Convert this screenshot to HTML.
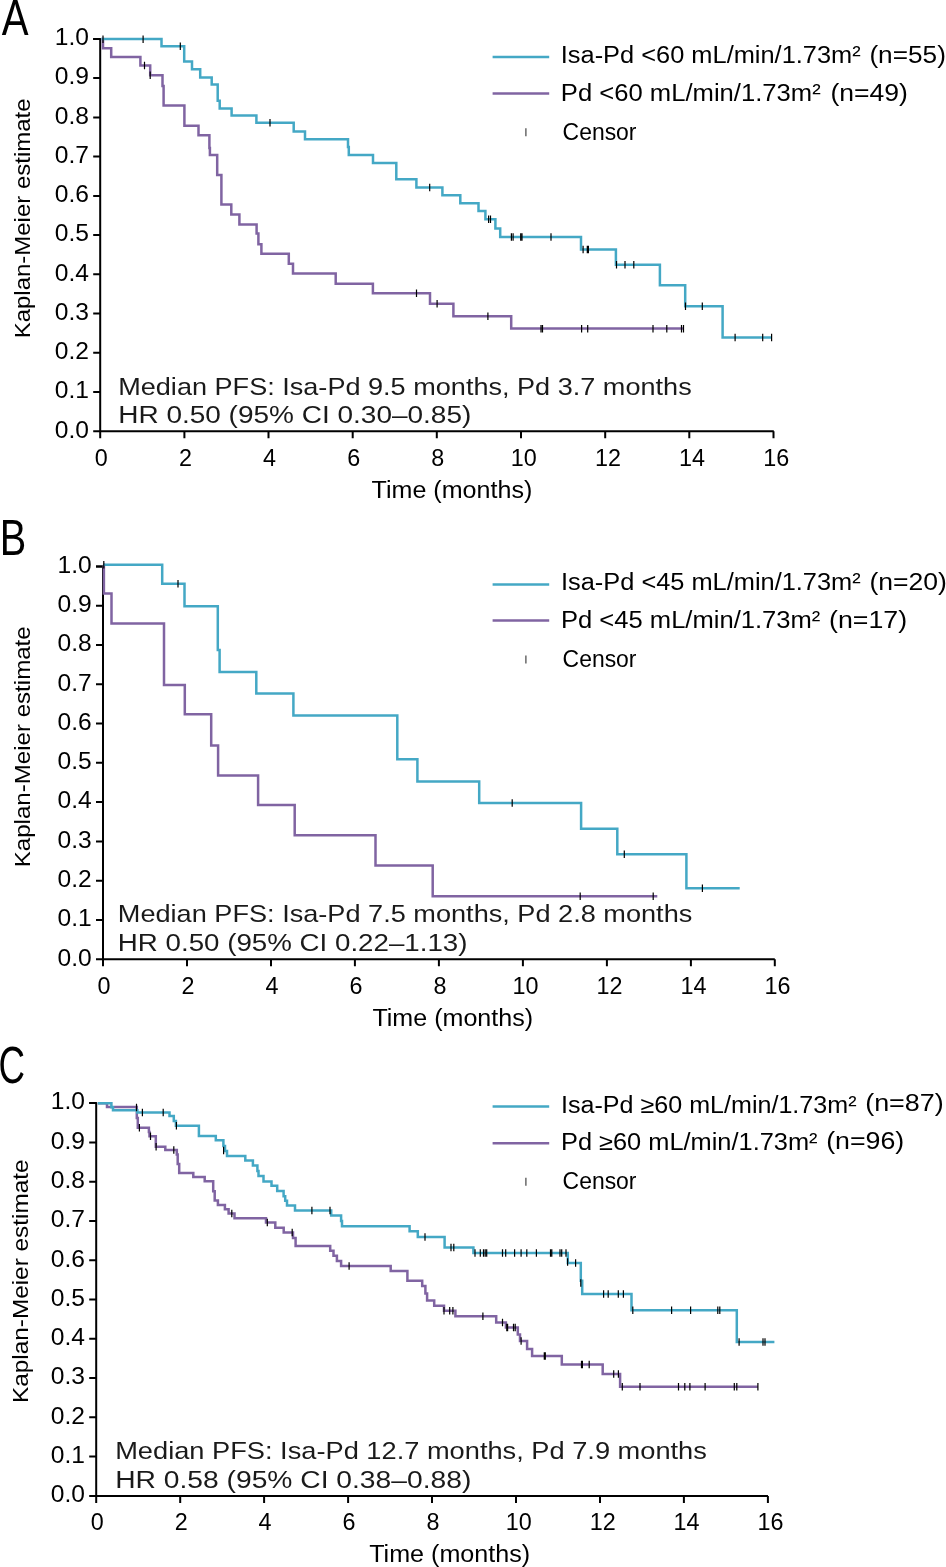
<!DOCTYPE html>
<html><head><meta charset="utf-8"><title>KM curves</title>
<style>
html,body{margin:0;padding:0;background:#fff;}
body{width:946px;height:1567px;overflow:hidden;}
svg{display:block;font-family:"Liberation Sans",sans-serif;fill:#000;will-change:transform;}
svg text{font-family:"Liberation Sans",sans-serif;}
</style></head><body>
<svg width="946" height="1567" viewBox="0 0 946 1567">
<rect width="946" height="1567" fill="#fff"/>
<path d="M93.2,38.9H100.2V431.3H773.8" fill="none" stroke="#000" stroke-width="2" stroke-linejoin="round"/>
<path d="M93.2,431.3H100.2M93.2,392.1H100.2M93.2,352.8H100.2M93.2,313.6H100.2M93.2,274.3H100.2M93.2,235.1H100.2M93.2,195.9H100.2M93.2,156.6H100.2M93.2,117.4H100.2M93.2,78.1H100.2M93.2,38.9H100.2M100.2,431.3V438.3M184.4,431.3V438.3M268.5,431.3V438.3M352.7,431.3V438.3M436.8,431.3V438.3M521.0,431.3V438.3M605.2,431.3V438.3M689.3,431.3V438.3M773.5,431.3V438.3" fill="none" stroke="#000" stroke-width="2"/>
<text x="89.0" y="437.6" text-anchor="end" font-size="23.3" textLength="34.2" lengthAdjust="spacingAndGlyphs">0.0</text>
<text x="89.0" y="398.4" text-anchor="end" font-size="23.3" textLength="34.2" lengthAdjust="spacingAndGlyphs">0.1</text>
<text x="89.0" y="359.1" text-anchor="end" font-size="23.3" textLength="34.2" lengthAdjust="spacingAndGlyphs">0.2</text>
<text x="89.0" y="319.9" text-anchor="end" font-size="23.3" textLength="34.2" lengthAdjust="spacingAndGlyphs">0.3</text>
<text x="89.0" y="280.6" text-anchor="end" font-size="23.3" textLength="34.2" lengthAdjust="spacingAndGlyphs">0.4</text>
<text x="89.0" y="241.4" text-anchor="end" font-size="23.3" textLength="34.2" lengthAdjust="spacingAndGlyphs">0.5</text>
<text x="89.0" y="202.2" text-anchor="end" font-size="23.3" textLength="34.2" lengthAdjust="spacingAndGlyphs">0.6</text>
<text x="89.0" y="162.9" text-anchor="end" font-size="23.3" textLength="34.2" lengthAdjust="spacingAndGlyphs">0.7</text>
<text x="89.0" y="123.7" text-anchor="end" font-size="23.3" textLength="34.2" lengthAdjust="spacingAndGlyphs">0.8</text>
<text x="89.0" y="84.4" text-anchor="end" font-size="23.3" textLength="34.2" lengthAdjust="spacingAndGlyphs">0.9</text>
<text x="89.0" y="45.2" text-anchor="end" font-size="23.3" textLength="34.2" lengthAdjust="spacingAndGlyphs">1.0</text>
<text x="101.2" y="465.8" text-anchor="middle" font-size="23.3" textLength="13" lengthAdjust="spacingAndGlyphs">0</text>
<text x="185.4" y="465.8" text-anchor="middle" font-size="23.3" textLength="13" lengthAdjust="spacingAndGlyphs">2</text>
<text x="269.5" y="465.8" text-anchor="middle" font-size="23.3" textLength="13" lengthAdjust="spacingAndGlyphs">4</text>
<text x="353.7" y="465.8" text-anchor="middle" font-size="23.3" textLength="13" lengthAdjust="spacingAndGlyphs">6</text>
<text x="437.8" y="465.8" text-anchor="middle" font-size="23.3" textLength="13" lengthAdjust="spacingAndGlyphs">8</text>
<text x="523.7" y="465.8" text-anchor="middle" font-size="23.3" textLength="26" lengthAdjust="spacingAndGlyphs">10</text>
<text x="607.9" y="465.8" text-anchor="middle" font-size="23.3" textLength="26" lengthAdjust="spacingAndGlyphs">12</text>
<text x="692.0" y="465.8" text-anchor="middle" font-size="23.3" textLength="26" lengthAdjust="spacingAndGlyphs">14</text>
<text x="776.2" y="465.8" text-anchor="middle" font-size="23.3" textLength="26" lengthAdjust="spacingAndGlyphs">16</text>
<path d="M101.5,39.1H103.0V48.2H111.2V56.9H140.4V65.5H150.2V75.2H162.5V86.0H163.6V105.4H184.4V125.8H198.5V135.3H209.4V148.0H209.9V155.0H217.2V175.0H221.4V204.6H231.3V214.4H239.4V224.6H256.6V233.6H258.4V244.2H261.4V253.8H288.8V263.7H293.0V273.6H335.7V283.7H372.9V293.2H430.0V303.8H453.4V316.3H511.2V328.6H684.0" fill="none" stroke="#8064a2" stroke-width="2.5" stroke-linejoin="miter"/>
<path d="M101.5,39.1H161.5V46.2H184.2V61.5H192.0V69.3H200.2V77.4H211.7V84.6H217.7V100.7H219.7V108.5H231.6V115.6H256.4V122.8H293.7V131.5H305.0V139.3H348.0V147.0H348.8V155.0H373.0V162.9H396.3V179.3H416.4V187.4H442.4V195.2H460.3V203.2H478.5V211.1H485.4V219.2H495.4V228.5H500.2V237.1H581.0V249.6H615.9V264.8H659.9V285.3H685.2V306.2H722.6V337.5H772.0" fill="none" stroke="#44a8c5" stroke-width="2.5" stroke-linejoin="miter"/>
<path d="M103.0,35.4V42.9M143.1,35.4V42.9M180.3,42.5V50.0M270.0,119.0V126.5M429.7,183.7V191.2M488.6,215.4V222.9M490.5,215.4V222.9M511.4,233.3V240.8M513.1,233.3V240.8M520.7,233.3V240.8M522.0,233.3V240.8M551.0,233.3V240.8M583.1,245.8V253.3M587.3,245.8V253.3M588.4,245.8V253.3M616.5,261.1V268.6M625.0,261.1V268.6M633.8,261.1V268.6M685.5,302.4V309.9M702.3,302.4V309.9M735.1,333.8V341.2M762.7,333.8V341.2M771.6,333.8V341.2" fill="none" stroke="#000" stroke-width="1.2"/>
<path d="M144.5,61.8V69.2M150.2,71.5V79.0M416.5,289.4V296.9M437.1,300.1V307.6M487.9,312.6V320.1M541.0,324.9V332.4M542.5,324.9V332.4M581.6,324.9V332.4M587.7,324.9V332.4M653.0,324.9V332.4M666.8,324.9V332.4M681.5,324.9V332.4M683.5,324.9V332.4" fill="none" stroke="#000" stroke-width="1.2"/>
<text x="1.8" y="35.0" font-size="50" textLength="26.8" lengthAdjust="spacingAndGlyphs">A</text>
<path d="M492.6,56.9H549.2" stroke="#44a8c5" stroke-width="2.5"/>
<path d="M492.6,93.4H549.2" stroke="#8064a2" stroke-width="2.5"/>
<path d="M525.9,128.2V136.2" stroke="#444" stroke-width="1.2"/>
<text x="560.80" y="62.5" font-size="23.5" fill="#000" textLength="299.90" lengthAdjust="spacingAndGlyphs">Isa-Pd &lt;60 mL/min/1.73m²</text>
<text x="869.40" y="62.5" font-size="23.5" fill="#000" textLength="76.50" lengthAdjust="spacingAndGlyphs">(n=55)</text>
<text x="560.80" y="100.5" font-size="23.5" fill="#000" textLength="259.90" lengthAdjust="spacingAndGlyphs">Pd &lt;60 mL/min/1.73m²</text>
<text x="830.40" y="100.5" font-size="23.5" fill="#000" textLength="77.50" lengthAdjust="spacingAndGlyphs">(n=49)</text>
<text x="562.60" y="139.5" font-size="23.5" fill="#000" textLength="73.90" lengthAdjust="spacingAndGlyphs">Censor</text>
<text x="118.20" y="394.5" font-size="24.2" fill="#1a1a1a" textLength="573.50" lengthAdjust="spacingAndGlyphs">Median PFS: Isa-Pd 9.5 months, Pd 3.7 months</text>
<text x="118.20" y="423.2" font-size="24.2" fill="#1a1a1a" textLength="353.10" lengthAdjust="spacingAndGlyphs">HR 0.50 (95% CI 0.30–0.85)</text>
<text x="371.60" y="497.7" font-size="23.0" fill="#000" textLength="160.70" lengthAdjust="spacingAndGlyphs">Time (months)</text>
<text transform="translate(29.5,338.3) rotate(-90)" x="0" y="0" font-size="21.8" textLength="239.8" lengthAdjust="spacingAndGlyphs">Kaplan-Meier estimate</text>
<path d="M96.0,566.4H103.0V959.3H774.8" fill="none" stroke="#000" stroke-width="2" stroke-linejoin="round"/>
<path d="M96.0,959.3H103.0M96.0,920.0H103.0M96.0,880.7H103.0M96.0,841.4H103.0M96.0,802.1H103.0M96.0,762.8H103.0M96.0,723.6H103.0M96.0,684.3H103.0M96.0,645.0H103.0M96.0,605.7H103.0M96.0,566.4H103.0M103.0,959.3V966.3M187.0,959.3V966.3M271.0,959.3V966.3M354.9,959.3V966.3M438.9,959.3V966.3M522.9,959.3V966.3M606.9,959.3V966.3M690.9,959.3V966.3M774.8,959.3V966.3" fill="none" stroke="#000" stroke-width="2"/>
<text x="91.8" y="965.6" text-anchor="end" font-size="23.3" textLength="34.2" lengthAdjust="spacingAndGlyphs">0.0</text>
<text x="91.8" y="926.3" text-anchor="end" font-size="23.3" textLength="34.2" lengthAdjust="spacingAndGlyphs">0.1</text>
<text x="91.8" y="887.0" text-anchor="end" font-size="23.3" textLength="34.2" lengthAdjust="spacingAndGlyphs">0.2</text>
<text x="91.8" y="847.7" text-anchor="end" font-size="23.3" textLength="34.2" lengthAdjust="spacingAndGlyphs">0.3</text>
<text x="91.8" y="808.4" text-anchor="end" font-size="23.3" textLength="34.2" lengthAdjust="spacingAndGlyphs">0.4</text>
<text x="91.8" y="769.1" text-anchor="end" font-size="23.3" textLength="34.2" lengthAdjust="spacingAndGlyphs">0.5</text>
<text x="91.8" y="729.9" text-anchor="end" font-size="23.3" textLength="34.2" lengthAdjust="spacingAndGlyphs">0.6</text>
<text x="91.8" y="690.6" text-anchor="end" font-size="23.3" textLength="34.2" lengthAdjust="spacingAndGlyphs">0.7</text>
<text x="91.8" y="651.3" text-anchor="end" font-size="23.3" textLength="34.2" lengthAdjust="spacingAndGlyphs">0.8</text>
<text x="91.8" y="612.0" text-anchor="end" font-size="23.3" textLength="34.2" lengthAdjust="spacingAndGlyphs">0.9</text>
<text x="91.8" y="572.7" text-anchor="end" font-size="23.3" textLength="34.2" lengthAdjust="spacingAndGlyphs">1.0</text>
<text x="104.0" y="993.8" text-anchor="middle" font-size="23.3" textLength="13" lengthAdjust="spacingAndGlyphs">0</text>
<text x="188.0" y="993.8" text-anchor="middle" font-size="23.3" textLength="13" lengthAdjust="spacingAndGlyphs">2</text>
<text x="272.0" y="993.8" text-anchor="middle" font-size="23.3" textLength="13" lengthAdjust="spacingAndGlyphs">4</text>
<text x="355.9" y="993.8" text-anchor="middle" font-size="23.3" textLength="13" lengthAdjust="spacingAndGlyphs">6</text>
<text x="439.9" y="993.8" text-anchor="middle" font-size="23.3" textLength="13" lengthAdjust="spacingAndGlyphs">8</text>
<text x="525.6" y="993.8" text-anchor="middle" font-size="23.3" textLength="26" lengthAdjust="spacingAndGlyphs">10</text>
<text x="609.6" y="993.8" text-anchor="middle" font-size="23.3" textLength="26" lengthAdjust="spacingAndGlyphs">12</text>
<text x="693.6" y="993.8" text-anchor="middle" font-size="23.3" textLength="26" lengthAdjust="spacingAndGlyphs">14</text>
<text x="777.5" y="993.8" text-anchor="middle" font-size="23.3" textLength="26" lengthAdjust="spacingAndGlyphs">16</text>
<path d="M103.5,564.8H103.9V593.6H111.5V623.5H164.0V685.0H184.8V714.3H211.2V745.4H218.1V775.6H258.1V805.1H294.7V835.3H375.5V865.6H432.7V896.2H657.3" fill="none" stroke="#8064a2" stroke-width="2.5" stroke-linejoin="miter"/>
<path d="M103.5,564.8H162.2V583.7H184.5V606.2H217.8V650.1H219.6V672.0H256.3V693.6H293.4V715.4H397.3V759.2H417.4V781.4H479.2V803.0H581.1V828.7H617.3V854.3H686.4V888.3H739.7" fill="none" stroke="#44a8c5" stroke-width="2.5" stroke-linejoin="miter"/>
<path d="M103.8,561.0V568.5M178.0,580.0V587.5M512.2,799.2V806.8M624.3,850.5V858.0M702.4,884.5V892.0" fill="none" stroke="#000" stroke-width="1.2"/>
<path d="M580.2,892.5V900.0M653.2,892.5V900.0" fill="none" stroke="#000" stroke-width="1.2"/>
<text x="-0.2" y="555.0" font-size="50" textLength="26.5" lengthAdjust="spacingAndGlyphs">B</text>
<path d="M492.6,584.4H549.2" stroke="#44a8c5" stroke-width="2.5"/>
<path d="M492.6,620.4H549.2" stroke="#8064a2" stroke-width="2.5"/>
<path d="M525.9,655.6V663.6" stroke="#444" stroke-width="1.2"/>
<text x="561.00" y="589.9" font-size="23.5" fill="#000" textLength="299.70" lengthAdjust="spacingAndGlyphs">Isa-Pd &lt;45 mL/min/1.73m²</text>
<text x="869.40" y="589.9" font-size="23.5" fill="#000" textLength="77.50" lengthAdjust="spacingAndGlyphs">(n=20)</text>
<text x="561.00" y="627.9" font-size="23.5" fill="#000" textLength="259.30" lengthAdjust="spacingAndGlyphs">Pd &lt;45 mL/min/1.73m²</text>
<text x="829.00" y="627.9" font-size="23.5" fill="#000" textLength="78.10" lengthAdjust="spacingAndGlyphs">(n=17)</text>
<text x="562.60" y="667.0" font-size="23.5" fill="#000" textLength="73.90" lengthAdjust="spacingAndGlyphs">Censor</text>
<text x="117.80" y="922.4" font-size="24.2" fill="#1a1a1a" textLength="574.50" lengthAdjust="spacingAndGlyphs">Median PFS: Isa-Pd 7.5 months, Pd 2.8 months</text>
<text x="117.80" y="951.3" font-size="24.2" fill="#1a1a1a" textLength="349.70" lengthAdjust="spacingAndGlyphs">HR 0.50 (95% CI 0.22–1.13)</text>
<text x="372.40" y="1025.7" font-size="23.0" fill="#000" textLength="160.70" lengthAdjust="spacingAndGlyphs">Time (months)</text>
<text transform="translate(30.0,867.3) rotate(-90)" x="0" y="0" font-size="21.8" textLength="241.0" lengthAdjust="spacingAndGlyphs">Kaplan-Meier estimate</text>
<path d="M89.2,1103.1H96.2V1495.9H768.0" fill="none" stroke="#000" stroke-width="2" stroke-linejoin="round"/>
<path d="M89.2,1495.9H96.2M89.2,1456.6H96.2M89.2,1417.3H96.2M89.2,1378.1H96.2M89.2,1338.8H96.2M89.2,1299.5H96.2M89.2,1260.2H96.2M89.2,1220.9H96.2M89.2,1181.7H96.2M89.2,1142.4H96.2M89.2,1103.1H96.2M96.2,1495.9V1502.9M180.2,1495.9V1502.9M264.1,1495.9V1502.9M348.1,1495.9V1502.9M432.0,1495.9V1502.9M516.0,1495.9V1502.9M600.0,1495.9V1502.9M683.9,1495.9V1502.9M767.9,1495.9V1502.9" fill="none" stroke="#000" stroke-width="2"/>
<text x="85.0" y="1502.2" text-anchor="end" font-size="23.3" textLength="34.2" lengthAdjust="spacingAndGlyphs">0.0</text>
<text x="85.0" y="1462.9" text-anchor="end" font-size="23.3" textLength="34.2" lengthAdjust="spacingAndGlyphs">0.1</text>
<text x="85.0" y="1423.6" text-anchor="end" font-size="23.3" textLength="34.2" lengthAdjust="spacingAndGlyphs">0.2</text>
<text x="85.0" y="1384.4" text-anchor="end" font-size="23.3" textLength="34.2" lengthAdjust="spacingAndGlyphs">0.3</text>
<text x="85.0" y="1345.1" text-anchor="end" font-size="23.3" textLength="34.2" lengthAdjust="spacingAndGlyphs">0.4</text>
<text x="85.0" y="1305.8" text-anchor="end" font-size="23.3" textLength="34.2" lengthAdjust="spacingAndGlyphs">0.5</text>
<text x="85.0" y="1266.5" text-anchor="end" font-size="23.3" textLength="34.2" lengthAdjust="spacingAndGlyphs">0.6</text>
<text x="85.0" y="1227.2" text-anchor="end" font-size="23.3" textLength="34.2" lengthAdjust="spacingAndGlyphs">0.7</text>
<text x="85.0" y="1188.0" text-anchor="end" font-size="23.3" textLength="34.2" lengthAdjust="spacingAndGlyphs">0.8</text>
<text x="85.0" y="1148.7" text-anchor="end" font-size="23.3" textLength="34.2" lengthAdjust="spacingAndGlyphs">0.9</text>
<text x="85.0" y="1109.4" text-anchor="end" font-size="23.3" textLength="34.2" lengthAdjust="spacingAndGlyphs">1.0</text>
<text x="97.2" y="1530.4" text-anchor="middle" font-size="23.3" textLength="13" lengthAdjust="spacingAndGlyphs">0</text>
<text x="181.2" y="1530.4" text-anchor="middle" font-size="23.3" textLength="13" lengthAdjust="spacingAndGlyphs">2</text>
<text x="265.1" y="1530.4" text-anchor="middle" font-size="23.3" textLength="13" lengthAdjust="spacingAndGlyphs">4</text>
<text x="349.1" y="1530.4" text-anchor="middle" font-size="23.3" textLength="13" lengthAdjust="spacingAndGlyphs">6</text>
<text x="433.0" y="1530.4" text-anchor="middle" font-size="23.3" textLength="13" lengthAdjust="spacingAndGlyphs">8</text>
<text x="518.7" y="1530.4" text-anchor="middle" font-size="23.3" textLength="26" lengthAdjust="spacingAndGlyphs">10</text>
<text x="602.7" y="1530.4" text-anchor="middle" font-size="23.3" textLength="26" lengthAdjust="spacingAndGlyphs">12</text>
<text x="686.6" y="1530.4" text-anchor="middle" font-size="23.3" textLength="26" lengthAdjust="spacingAndGlyphs">14</text>
<text x="770.6" y="1530.4" text-anchor="middle" font-size="23.3" textLength="26" lengthAdjust="spacingAndGlyphs">16</text>
<path d="M97.8,1103.3H107.0V1107.0H136.8V1118.0H137.8V1127.8H148.9V1132.0H149.5V1136.2H155.8V1146.8H165.3V1150.1H176.8V1154.4H177.7V1164.1H179.2V1173.0H193.3V1177.0H204.7V1181.3H213.2V1191.2H214.7V1200.5H217.9V1205.0H224.9V1209.2H228.6V1213.4H234.5V1218.2H266.0V1222.4H275.3V1227.8H283.7V1232.5H293.0V1238.0H295.6V1246.0H330.2V1250.8H333.5V1255.8H336.9V1260.9H341.1V1266.0H390.7V1271.1H407.4V1280.7H422.2V1286.0H425.4V1293.4H427.1V1300.4H434.2V1305.7H444.0V1310.8H455.4V1316.3H496.2V1322.4H505.9V1327.6H517.8V1334.4H520.0V1341.1H527.1V1349.1H532.1V1355.9H561.8V1364.5H602.7V1374.0H620.1V1386.7H757.9" fill="none" stroke="#8064a2" stroke-width="2.5" stroke-linejoin="miter"/>
<path d="M97.8,1103.3H111.4V1107.2H113.0V1110.3H137.3V1112.4H169.5V1116.1H173.8V1120.9H175.9V1125.8H198.9V1136.0H215.8V1140.3H223.4V1145.9H225.0V1151.0H227.0V1155.9H245.3V1160.6H252.9V1165.6H257.4V1171.1H258.5V1175.9H263.5V1181.5H271.5V1185.7H277.2V1191.0H283.6V1196.3H285.2V1200.7H287.0V1205.5H295.0V1210.5H331.2V1215.5H341.1V1221.1H342.0V1226.2H409.6V1231.3H417.8V1237.1H444.6V1247.5H473.4V1253.0H567.8V1263.0H580.8V1280.7H582.2V1294.0H631.5V1310.3H736.8V1342.0H774.4" fill="none" stroke="#44a8c5" stroke-width="2.5" stroke-linejoin="miter"/>
<path d="M142.4,1108.7V1116.2M163.2,1108.7V1116.2M176.4,1122.0V1129.5M223.6,1146.8V1154.2M311.9,1206.8V1214.2M330.0,1206.8V1214.2M425.0,1233.3V1240.8M451.0,1243.8V1251.2M453.8,1243.8V1251.2M475.0,1249.2V1256.8M480.3,1249.2V1256.8M483.5,1249.2V1256.8M485.2,1249.2V1256.8M486.7,1249.2V1256.8M502.5,1249.2V1256.8M505.7,1249.2V1256.8M514.6,1249.2V1256.8M521.1,1249.2V1256.8M526.8,1249.2V1256.8M536.4,1249.2V1256.8M550.5,1249.2V1256.8M551.8,1249.2V1256.8M560.0,1249.2V1256.8M561.7,1249.2V1256.8M566.0,1249.2V1256.8M567.6,1258.2V1265.8M575.6,1259.2V1266.8M580.8,1279.2V1286.8M603.6,1290.2V1297.8M608.2,1290.2V1297.8M618.3,1290.2V1297.8M623.4,1290.2V1297.8M632.8,1306.5V1314.0M671.6,1306.5V1314.0M690.6,1306.5V1314.0M717.8,1306.5V1314.0M719.8,1306.5V1314.0M739.1,1338.2V1345.8M763.0,1338.2V1345.8M765.0,1338.2V1345.8" fill="none" stroke="#000" stroke-width="1.2"/>
<path d="M136.5,1103.8V1111.2M139.4,1124.0V1131.5M150.5,1132.5V1140.0M156.1,1143.0V1150.5M173.8,1146.3V1153.8M231.8,1209.7V1217.2M267.3,1218.7V1226.2M292.2,1228.8V1236.2M349.1,1262.2V1269.8M444.0,1307.0V1314.5M449.7,1307.0V1314.5M452.9,1307.0V1314.5M482.9,1312.5V1320.0M502.5,1318.7V1326.2M506.8,1323.8V1331.3M507.6,1323.8V1331.3M513.5,1323.8V1331.3M515.2,1323.8V1331.3M521.1,1337.3V1344.8M544.3,1352.2V1359.7M545.3,1352.2V1359.7M581.5,1360.8V1368.2M582.4,1360.8V1368.2M589.2,1360.8V1368.2M613.7,1370.2V1377.8M618.4,1370.2V1377.8M622.3,1383.0V1390.5M640.0,1383.0V1390.5M678.5,1383.0V1390.5M684.8,1383.0V1390.5M689.9,1383.0V1390.5M705.1,1383.0V1390.5M734.3,1383.0V1390.5M736.8,1383.0V1390.5M757.9,1383.0V1390.5" fill="none" stroke="#000" stroke-width="1.2"/>
<text x="-1.5" y="1083.0" font-size="51" textLength="26.5" lengthAdjust="spacingAndGlyphs">C</text>
<path d="M492.6,1106.5H549.2" stroke="#44a8c5" stroke-width="2.5"/>
<path d="M492.6,1143.2H549.2" stroke="#8064a2" stroke-width="2.5"/>
<path d="M525.9,1177.7V1185.7" stroke="#444" stroke-width="1.2"/>
<text x="561.00" y="1112.8" font-size="23.5" fill="#000" textLength="295.50" lengthAdjust="spacingAndGlyphs">Isa-Pd ≥60 mL/min/1.73m²</text>
<text x="865.20" y="1111.3" font-size="23.5" fill="#000" textLength="78.50" lengthAdjust="spacingAndGlyphs">(n=87)</text>
<text x="561.00" y="1150.4" font-size="23.5" fill="#000" textLength="256.50" lengthAdjust="spacingAndGlyphs">Pd ≥60 mL/min/1.73m²</text>
<text x="826.20" y="1148.9" font-size="23.5" fill="#000" textLength="78.10" lengthAdjust="spacingAndGlyphs">(n=96)</text>
<text x="562.60" y="1188.9" font-size="23.5" fill="#000" textLength="73.90" lengthAdjust="spacingAndGlyphs">Censor</text>
<text x="115.20" y="1458.7" font-size="24.2" fill="#1a1a1a" textLength="591.70" lengthAdjust="spacingAndGlyphs">Median PFS: Isa-Pd 12.7 months, Pd 7.9 months</text>
<text x="115.20" y="1487.5" font-size="24.2" fill="#1a1a1a" textLength="356.10" lengthAdjust="spacingAndGlyphs">HR 0.58 (95% CI 0.38–0.88)</text>
<text x="369.20" y="1562.2" font-size="23.0" fill="#000" textLength="160.90" lengthAdjust="spacingAndGlyphs">Time (months)</text>
<text transform="translate(27.5,1403.0) rotate(-90)" x="0" y="0" font-size="21.8" textLength="243.5" lengthAdjust="spacingAndGlyphs">Kaplan-Meier estimate</text>
</svg>
</body></html>
